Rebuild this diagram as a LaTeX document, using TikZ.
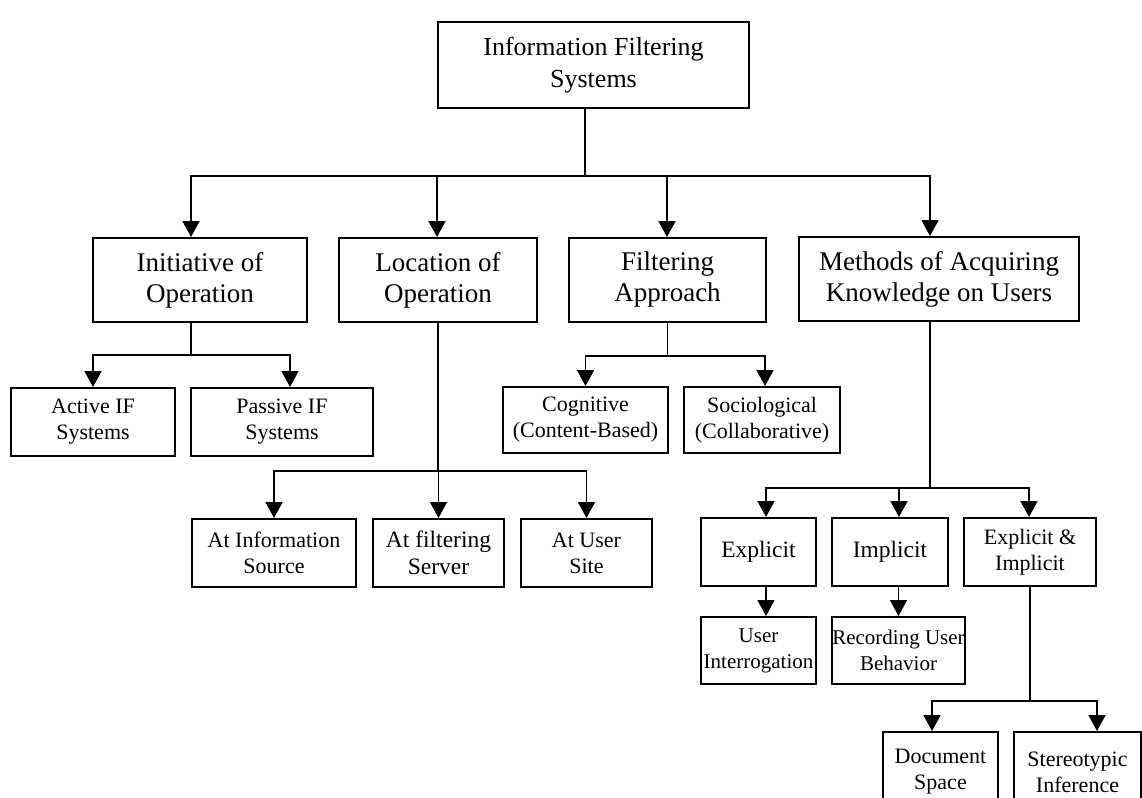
\documentclass[tikz,border=0pt]{standalone}
\usepackage{fontspec}
\setmainfont{Liberation Serif}
\usetikzlibrary{arrows.meta}

\begin{document}
\begin{tikzpicture}[x=1pt,y=-1pt,
    box/.style={draw,line width=2pt,align=center,inner sep=0pt},
    big box/.style={box,font=\fontsize{27}{31}\selectfont},
    mid box/.style={box,font=\fontsize{23.5}{27}\selectfont},
    small box/.style={box,font=\fontsize{22}{26}\selectfont},
    link/.style={line width=1.7pt},
    arrow/.style={link,-{Triangle[length=16pt,width=17pt]}}]

  \useasboundingbox (0,0) rectangle (1142,797);
  \clip (0,0) rectangle (1142,797);

  % root
  \draw (593.5,65) node[big box,font=\fontsize{26}{32}\selectfont,minimum width=311pt,minimum height=86pt] (root) {Information Filtering\\Systems};

  % first level
  \draw (200,280)   node[big box,minimum width=214pt,minimum height=84pt] (init) {Initiative of\\Operation};
  \draw (438,280)   node[big box,minimum width=198pt,minimum height=84pt] (loc)  {Location of\\Operation};
  \draw (667.5,280) node[big box,minimum width=197pt,minimum height=84pt] (filt) {Filtering\\Approach};
  \draw (939,279)   node[big box,minimum width=280pt,minimum height=84pt] (meth) {Methods of Acquiring\\Knowledge on Users};

  % second level
  \draw (93,422)    node[small box,minimum width=164pt,minimum height=68pt] (act) {Active IF\\Systems};
  \draw (282,422)   node[small box,minimum width=182pt,minimum height=68pt] (pas) {Passive IF\\Systems};
  \draw (585.5,420) node[small box,minimum width=165pt,minimum height=66pt] (cog) {Cognitive\\(Content-Based)};
  \draw (762,420)   node[small box,minimum width=156pt,minimum height=66pt] (soc) {Sociological\\(Collaborative)};

  \draw (274,553)   node[small box,minimum width=164pt,minimum height=68pt] (src)  {At Information\\Source};
  \draw (438.5,553) node[mid box,minimum width=131pt,minimum height=68pt]   (srv)  {At filtering\\Server};
  \draw (586.5,553) node[small box,minimum width=131pt,minimum height=68pt] (site) {At User\\Site};

  \draw (758.5,552) node[mid box,minimum width=115pt,minimum height=68pt]   (expl) {Explicit};
  \draw (890,552)   node[mid box,minimum width=116pt,minimum height=68pt]   (impl) {Implicit};
  \draw (1030,552)  node[small box,minimum width=132pt,minimum height=68pt] (exim) {Explicit \&\\Implicit};

  % third level
  \draw (758.5,650.5) node[small box,font=\fontsize{21}{26}\selectfont,minimum width=115pt,minimum height=67pt] (ui)  {User\\Interrogation};
  \draw (898.5,650.5) node[small box,font=\fontsize{21}{26}\selectfont,minimum width=133pt,minimum height=67pt] (rub) {Recording User\\Behavior};
  \draw (940.5,772)   node[small box,minimum width=115pt,minimum height=80pt] (doc)  {Document\\Space};
  \draw (1077.5,772)  node[small box,minimum width=127pt,minimum height=80pt] (ster) {Stereotypic\\Inference};

  % connectors
  \draw[link] ([xshift=-8.5pt]root.south) -- ++(0,67) coordinate (j0);
  \foreach \n/\dx in {init/-9,loc/-1,filt/-0.5,meth/-9}
    \draw[arrow] (j0) -| ([xshift=\dx pt]\n.north);

  \draw[link] ([xshift=-9pt]init.south) -- ++(0,32) coordinate (j1);
  \draw[arrow] (j1) -| (act.north);
  \draw[arrow] (j1) -| ([xshift=8pt]pas.north);

  \draw[link] (filt.south) -- ++(0,33) coordinate (j2);
  \draw[arrow] (j2) -| (cog.north);
  \draw[arrow] (j2) -| ([xshift=3pt]soc.north);

  \draw[link] (loc.south) -- ++(0,148) coordinate (j3);
  \foreach \n in {src,srv,site}
    \draw[arrow] (j3) -| (\n.north);

  \draw[link] ([xshift=-9pt]meth.south) -- ++(0,166) coordinate (j4);
  \foreach \n/\dx in {expl/7.5,impl/9,exim/-1}
    \draw[arrow] (j4) -| ([xshift=\dx pt]\n.north);

  \draw[arrow] ([xshift=7.5pt]expl.south) -- ([xshift=7.5pt]ui.north);
  \draw[arrow] (rub.north |- impl.south) -- (rub.north);

  \draw[link] (exim.south) -- ++(0,114) coordinate (j5);
  \draw[arrow] (j5) -| ([xshift=-8.5pt]doc.north);
  \draw[arrow] (j5) -| ([xshift=19.5pt]ster.north);
\end{tikzpicture}
\end{document}
